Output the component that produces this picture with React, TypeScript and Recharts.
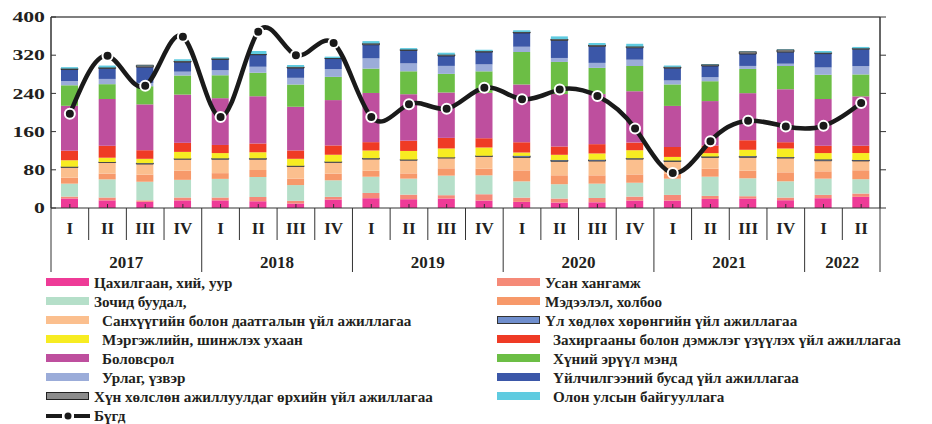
import React from 'react';
import { ComposedChart, Bar, Line, XAxis, YAxis, ReferenceLine } from 'recharts';

const quarters = ['I', 'II', 'III', 'IV', 'I', 'II', 'III', 'IV', 'I', 'II', 'III', 'IV', 'I', 'II', 'III', 'IV', 'I', 'II', 'III', 'IV', 'I', 'II'];
const years = ['2017', '2017', '2017', '2017', '2018', '2018', '2018', '2018', '2019', '2019', '2019', '2019', '2020', '2020', '2020', '2020', '2021', '2021', '2021', '2021', '2022', '2022'];

const electricity = [20, 16, 13, 16, 16, 14, 9.4, 17.7, 20.5, 18.4, 19.8, 15.6, 12.8, 11.5, 12, 15.6, 15.6, 19, 19.8, 16.3, 20.5, 23.3];
const water = [4, 6, 3, 6, 6, 9, 5.6, 5.6, 11, 9.6, 7, 13.2, 9, 8.3, 9, 8.3, 11.8, 6.3, 4.9, 5.6, 7, 7];
const hotel = [27, 38, 39, 37, 39, 42, 33, 34.7, 34, 33.5, 41, 39.6, 34, 30, 30, 29, 34, 40.3, 37.5, 34, 34, 30];
const info = [12.5, 12, 15, 19, 12, 14.5, 13.5, 14, 12.5, 11, 15.3, 13.9, 23, 18.7, 17.4, 17.4, 11, 16.7, 16, 18.8, 15.3, 18.7];
const finance = [21.5, 23.5, 22, 24, 29, 22.5, 25.5, 23.5, 24.4, 27.5, 21.5, 25.7, 27, 29.2, 29.9, 32, 25, 23.6, 27.8, 29.9, 22.2, 19.5];
const realEstate = [1.5, 0.8, 2, 1.5, 2, 2, 1.5, 1.5, 2, 1.5, 1.4, 1.4, 3.4, 2.7, 2.7, 2, 2, 2, 2.7, 2, 2.8, 2];
const professional = [13.5, 9, 9, 14, 11, 13, 14.5, 14.5, 16, 18, 18.7, 17.3, 7, 11, 13.2, 16.7, 7.6, 7, 13.2, 18, 13.2, 14.6];
const admin = [20, 25, 18, 19, 17, 18, 17.5, 19.5, 17.5, 21.5, 22.2, 19.4, 21.5, 17.4, 19.5, 16, 20.8, 16, 20, 13.2, 15.3, 15.3];
const education = [94, 98, 96, 101, 98, 99, 91.5, 95, 103, 97.3, 95, 95, 121, 109.7, 104.8, 107.6, 86, 93, 98.6, 111, 98, 103.5];
const health = [43, 31, 38, 40, 48, 49, 46.6, 48.6, 51, 48, 39, 45.1, 68, 67.4, 55, 52.8, 45, 41.6, 50.7, 48.6, 50.7, 45.8];
const arts = [9, 11, 7, 8, 10.5, 13, 14, 16.4, 21.5, 16.6, 16.7, 14.6, 11, 8.3, 10.4, 13.2, 8.3, 8.4, 6.3, 4.8, 15.3, 17.4];
const otherServices = [24, 22, 33, 20, 22.5, 25, 20.4, 22, 28.5, 27, 20.8, 25.7, 29, 36.8, 34.7, 25, 25.7, 23.6, 25, 24.3, 29, 35.4];
const households = [2, 2, 4, 2.5, 2, 1.5, 2.5, 1, 3, 2, 2.8, 2.1, 2, 2.8, 2.8, 2.8, 2.8, 2.8, 4.8, 4.9, 2, 2];
const international = [3, 4, 0.5, 3.5, 2.6, 6.5, 4, 3, 4.6, 3, 4, 2.8, 3.5, 5.6, 4.2, 5.5, 2.8, 0.7, 0.5, 0.7, 3.5, 2.8];
const total = [1148, 1239, 1192, 1269, 1143, 1277, 1240, 1259, 1143, 1163, 1156, 1189, 1171, 1186, 1176, 1125, 1055, 1105, 1137, 1128, 1129, 1165];

const leftTicks = [0, 40, 80, 120, 160, 200, 240, 280, 320, 360, 400];
const rightTicks = [1000, 1030, 1060, 1090, 1120, 1150, 1180, 1210, 1240, 1270, 1300];

// stack order, bottom to top
const series = [
  { key: 'electricity', name: 'Цахилгаан, хий, уур', color: '#ee3b97', values: electricity },
  { key: 'water', name: 'Усан хангамж', color: '#f58a78', values: water },
  { key: 'hotel', name: 'Зочид буудал,', color: '#b5dfc9', values: hotel },
  { key: 'info', name: 'Мэдээлэл, холбоо', color: '#f7996a', values: info },
  { key: 'finance', name: 'Санхүүгийн болон даатгалын үйл ажиллагаа', color: '#fbbf8e', values: finance, indent: true },
  { key: 'realEstate', name: 'Үл хөдлөх хөрөнгийн үйл ажиллагаа', color: '#6f8ecd', stroke: '#333', values: realEstate },
  { key: 'professional', name: 'Мэргэжлийн, шинжлэх ухаан', color: '#f7ec22', values: professional, indent: true },
  { key: 'admin', name: 'Захиргааны болон дэмжлэг үзүүлэх үйл ажиллагаа', color: '#ef3b25', values: admin, indent: true },
  { key: 'education', name: 'Боловсрол', color: '#be4f9e', values: education, indent: true },
  { key: 'health', name: 'Хүний эрүүл мэнд', color: '#6cbe45', values: health, indent: true },
  { key: 'arts', name: 'Урлаг, үзвэр', color: '#9bacd9', values: arts, indent: true },
  { key: 'otherServices', name: 'Үйлчилгээний бусад үйл ажиллагаа', color: '#3b57a8', values: otherServices, indent: true },
  { key: 'households', name: 'Хүн хөлслөн ажиллуулдаг өрхийн үйл ажиллагаа', color: '#8c8c8c', stroke: '#222', values: households },
  { key: 'international', name: 'Олон улсын байгууллага', color: '#5fcbe0', values: international, indent: true },
];

const data = quarters.map((q, i) => {
  const row: any = { key: `${years[i]}-${q}`, total: total[i] };
  series.forEach(s => { row[s.key] = s.values[i]; });
  return row;
});

const textColor = '#231f20';
const serif = '"Liberation Serif", "Times New Roman", serif';

const QuarterTick = (props: any) => {
  const { x, y, payload, index } = props;
  const half = payload.offset || 18.8;
  const yr = years[index];
  const first = index === 0 || years[index - 1] !== yr;
  const count = years.filter(v => v === yr).length;
  return (
    <g>
      <line x1={x} y1={y - 4} x2={x} y2={y} stroke="#333" />
      <line x1={x - half} y1={y} x2={x - half} y2={y + (first ? 64 : 32)} stroke="#333" />
      {index === quarters.length - 1 && (
        <line x1={x + half} y1={y} x2={x + half} y2={y + 64} stroke="#333" />
      )}
      <text x={x} y={y + 26} textAnchor="middle" fontFamily={serif} fontWeight="bold" fontSize={17} fill={textColor}>
        {quarters[index]}
      </text>
      {first && (
        <text x={x + (count - 1) * half} y={y + 60} textAnchor="middle" fontFamily={serif} fontWeight="bold" fontSize={17} fill={textColor}>
          {yr}
        </text>
      )}
    </g>
  );
};

const LeftTick = (props: any) => {
  const { x, y, payload } = props;
  const v = payload.value;
  return (
    <g>
      <line x1={x} y1={y} x2={x + 5} y2={y} stroke="#333" />
      {v % 80 === 0 && (
        <text transform={`translate(${x - 6},${y}) scale(1.45,1)`} textAnchor="end" dy="0.35em"
          fontFamily={serif} fontWeight="bold" fontSize={15} fill={textColor}>
          {v}
        </text>
      )}
    </g>
  );
};

const RightTick = (props: any) => {
  const { x, y, payload } = props;
  const v = payload.value;
  return (
    <g>
      <line x1={x} y1={y} x2={x + 6} y2={y} stroke="#333" />
      {v % 60 === 0 && (
        <text transform={`translate(${x + 6},${y}) scale(1.45,1)`} textAnchor="start" dy="0.35em"
          fontFamily={serif} fontWeight="bold" fontSize={15} fill={textColor}>
          {v}
        </text>
      )}
    </g>
  );
};

const legendLeft = ['electricity', 'hotel', 'finance', 'professional', 'education', 'arts', 'households', 'total'];
const legendRight = ['water', 'info', 'realEstate', 'admin', 'health', 'otherServices', 'international'];

const LegendItem = ({ id, left, top }: { id: string; left: number; top: number }) => {
  const s = series.find(v => v.key === id);
  const swatch = s ? (
    <div style={{
      position: 'absolute', left, top: top + 2, width: 43, height: 8, background: s.color,
      boxSizing: 'border-box', border: s.stroke ? `1.5px solid ${s.stroke}` : 'none',
    }} />
  ) : (
    <svg style={{ position: 'absolute', left, top: top - 2 }} width={44} height={16}>
      <line x1={0} y1={9} x2={16} y2={9} stroke="#1a1a1a" strokeWidth={4} />
      <circle cx={22} cy={9} r={3.5} fill="#1a1a1a" />
      <line x1={28} y1={9} x2={44} y2={9} stroke="#1a1a1a" strokeWidth={4} />
    </svg>
  );
  return (
    <>
      {swatch}
      <div style={{
        position: 'absolute', left: left + (s && s.indent ? 56 : 48), top, whiteSpace: 'nowrap',
        fontFamily: serif, fontWeight: 'bold', fontSize: 14, lineHeight: '16px', color: textColor,
        transform: 'scaleX(1.08)', transformOrigin: 'left center',
      }}>
        {s ? s.name : 'Бүгд'}
      </div>
    </>
  );
};

export default function App() {
  return (
    <div style={{ position: 'absolute', left: 0, top: 0, width: 932, height: 424, background: '#fff' }}>
      <ComposedChart width={932} height={280} data={data} margin={{ top: 17, right: 0, bottom: 0, left: 0 }}>
        <XAxis dataKey="key" xAxisId="x" interval={0} height={72} tickSize={0} tickMargin={0}
          tickLine={false} axisLine={{ stroke: '#333' }} tick={<QuarterTick />} />
        <YAxis yAxisId="left" orientation="left" width={51} domain={[0, 400]} ticks={leftTicks}
          tickSize={0} tickMargin={0} tickLine={false} axisLine={{ stroke: '#333', strokeWidth: 1.5 }} tick={<LeftTick />} />
        <YAxis yAxisId="right" orientation="right" width={52} domain={[1000, 1300]} ticks={rightTicks}
          tickSize={0} tickMargin={0} tickLine={false} axisLine={{ stroke: '#333', strokeWidth: 1.5 }} tick={<RightTick />} />
        <ReferenceLine yAxisId="left" xAxisId="x" y={400} stroke="#555" strokeWidth={1.5} />
        {series.map(s => (
          <Bar key={s.key} dataKey={s.key} name={s.name} xAxisId="x" yAxisId="left" stackId="a" barSize={17}
            fill={s.color} stroke={s.stroke} strokeWidth={s.stroke ? 0.8 : 0} isAnimationActive={false} />
        ))}
        <Line type="natural" dataKey="total" name="Бүгд" xAxisId="x" yAxisId="right" stroke="#1a1a1a" strokeWidth={4.5}
          dot={{ r: 5, fill: '#1a1a1a', stroke: '#fff', strokeWidth: 2 }} isAnimationActive={false} />
      </ComposedChart>
      {legendLeft.map((id, i) => (
        <LegendItem key={id} id={id} left={46} top={276 + i * 19} />
      ))}
      {legendRight.map((id, i) => (
        <LegendItem key={id} id={id} left={497} top={276 + i * 19} />
      ))}
    </div>
  );
}
